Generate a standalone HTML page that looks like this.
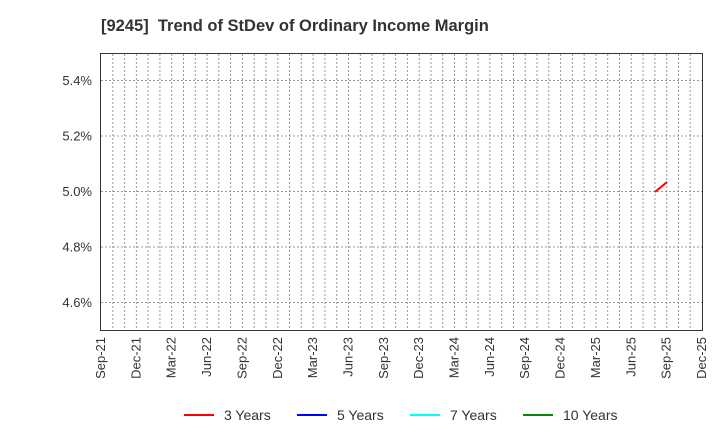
<!DOCTYPE html>
<html><head><meta charset="utf-8"><style>body{margin:0;background:#fff}svg{display:block}text{font-family:"Liberation Sans",sans-serif}</style></head><body>
<svg width="720" height="440" xmlns="http://www.w3.org/2000/svg">
<text x="101" y="31" font-size="16.5" font-weight="bold" fill="#333" style="white-space:pre">[9245]  Trend of StDev of Ordinary Income Margin</text>
<path stroke="#999" stroke-width="1" stroke-dasharray="2,2" fill="none" d="M112.8 54V330M124.6 54V330M136.4 54V330M148.1 54V330M159.9 54V330M171.7 54V330M183.5 54V330M195.3 54V330M207.1 54V330M218.8 54V330M230.6 54V330M242.4 54V330M254.2 54V330M266 54V330M277.8 54V330M289.5 54V330M301.3 54V330M313.1 54V330M324.9 54V330M336.7 54V330M348.5 54V330M360.3 54V330M372 54V330M383.8 54V330M395.6 54V330M407.4 54V330M419.2 54V330M431 54V330M442.7 54V330M454.5 54V330M466.3 54V330M478.1 54V330M489.9 54V330M501.7 54V330M513.5 54V330M525.2 54V330M537 54V330M548.8 54V330M560.6 54V330M572.4 54V330M584.2 54V330M595.9 54V330M607.7 54V330M619.5 54V330M631.3 54V330M643.1 54V330M654.9 54V330M666.7 54V330M678.5 54V330M690.2 54V330"/>
<path stroke="#999" stroke-width="1" stroke-dasharray="2,2" fill="none" d="M101 80.5H702M101 136H702M101 191.5H702M101 247H702M101 302.5H702"/>
<g font-size="13" fill="#333" text-anchor="end">
<text x="92" y="85">5.4%</text><text x="92" y="140.5">5.2%</text><text x="92" y="196">5.0%</text><text x="92" y="251.5">4.8%</text><text x="92" y="307">4.6%</text>
</g>
<g font-size="13" fill="#333" text-anchor="end">
<text transform="translate(105,337) rotate(-90)">Sep-21</text>
<text transform="translate(140.4,337) rotate(-90)">Dec-21</text>
<text transform="translate(175.7,337) rotate(-90)">Mar-22</text>
<text transform="translate(211.1,337) rotate(-90)">Jun-22</text>
<text transform="translate(246.4,337) rotate(-90)">Sep-22</text>
<text transform="translate(281.8,337) rotate(-90)">Dec-22</text>
<text transform="translate(317.1,337) rotate(-90)">Mar-23</text>
<text transform="translate(352.5,337) rotate(-90)">Jun-23</text>
<text transform="translate(387.8,337) rotate(-90)">Sep-23</text>
<text transform="translate(423.2,337) rotate(-90)">Dec-23</text>
<text transform="translate(458.5,337) rotate(-90)">Mar-24</text>
<text transform="translate(493.9,337) rotate(-90)">Jun-24</text>
<text transform="translate(529.2,337) rotate(-90)">Sep-24</text>
<text transform="translate(564.6,337) rotate(-90)">Dec-24</text>
<text transform="translate(599.9,337) rotate(-90)">Mar-25</text>
<text transform="translate(635.3,337) rotate(-90)">Jun-25</text>
<text transform="translate(670.7,337) rotate(-90)">Sep-25</text>
<text transform="translate(706,337) rotate(-90)">Dec-25</text>
</g>
<rect x="100.5" y="53.5" width="602" height="277" fill="none" stroke="#333" stroke-width="1"/>
<line x1="655" y1="192" x2="667" y2="182" stroke="#f00" stroke-width="2"/>
<g font-size="14" fill="#333">
<line x1="184" x2="214" y1="415" y2="415" stroke="#f00" stroke-width="2"/><text x="224" y="420">3 Years</text>
<line x1="297" x2="327" y1="415" y2="415" stroke="#00f" stroke-width="2"/><text x="337" y="420">5 Years</text>
<line x1="410" x2="440" y1="415" y2="415" stroke="#0ff" stroke-width="2"/><text x="450" y="420">7 Years</text>
<line x1="523" x2="553" y1="415" y2="415" stroke="#080" stroke-width="2"/><text x="563" y="420">10 Years</text>
</g>
</svg>
</body></html>
